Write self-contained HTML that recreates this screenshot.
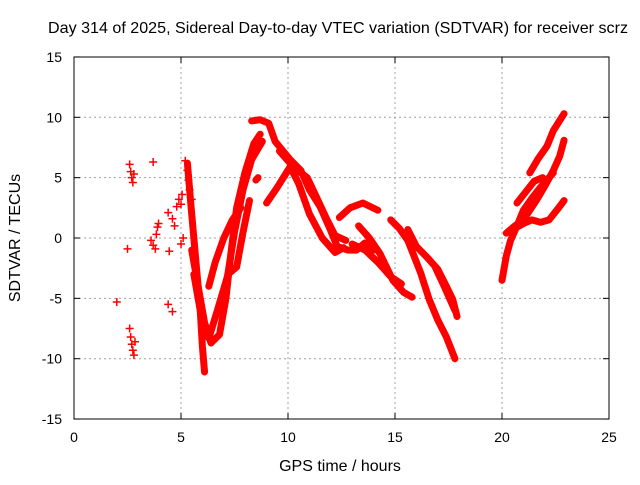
<!DOCTYPE html>
<html><head><meta charset="utf-8"><style>
body{margin:0;background:#fff;}
svg text{font-family:"Liberation Sans",sans-serif;fill:#000;}
</style></head><body>
<svg id="chart" width="640" height="480" xmlns="http://www.w3.org/2000/svg">
<rect width="640" height="480" fill="#fff"/>
<text x="48" y="33" font-size="16" textLength="580" lengthAdjust="spacingAndGlyphs">Day 314 of 2025, Sidereal Day-to-day VTEC variation (SDTVAR) for receiver scrz</text>
<g id="grid"></g>
<g id="axes"></g>
<g id="marks"></g>
<text x="340" y="471" font-size="16" text-anchor="middle">GPS time / hours</text>
<text transform="translate(20,238) rotate(-90)" font-size="16" text-anchor="middle">SDTVAR / TECUs</text>
</svg>
<script>
const xTicks=[0,5,10,15,20,25];
const yTicks=[-15,-10,-5,0,5,10,15];
const tracks=[
 [[5.3,6.2],[5.45,3],[5.6,0],[5.75,-3],[5.9,-6],[6.0,-9],[6.1,-11.1]],
 [[5.5,-1],[5.8,-4],[6.1,-7],[6.4,-8.7],[6.8,-8],[7.1,-5],[7.35,-1],[7.6,2.5],[8.0,5.5],[8.4,7.8],[8.7,8.6]],
 [[5.6,-3],[5.9,-6],[6.3,-8.3],[6.7,-6],[7.2,-3],[7.6,-2.4],[7.9,0.5],[8.2,3.1]],
 [[6.3,-4],[6.6,-2],[7.0,0],[7.4,1.5],[7.8,2.5]],
 [[7.1,-4],[7.5,0.5],[7.9,4],[8.3,6.5],[8.8,8.0]],
 [[8.3,9.7],[8.7,9.8],[9.1,9.5],[9.4,8],[10.1,6.5],[10.6,5.6],[11.0,4],[11.5,2.6],[12.0,0.6],[12.3,-0.7],[12.8,-1],[13.2,-1],[13.6,-0.4],[14.0,-1]],
 [[9.6,7.2],[10.3,5.8],[10.9,5],[11.3,3.5],[11.8,1.6],[12.2,0.2],[12.7,-0.2]],
 [[9.0,2.9],[9.5,4.2],[10.1,5.9],[10.5,4.5],[11.0,2],[11.6,0],[12.2,-1.2],[12.6,-0.8]],
 [[8.5,4.8],[8.6,5.0]],
 [[12.4,1.7],[12.9,2.5],[13.5,2.9],[14.2,2.3]],
 [[13.3,1],[13.8,0],[14.3,-1.3],[14.9,-3.5],[15.4,-4.5],[15.8,-4.9]],
 [[13.0,-0.5],[13.6,-1],[14.2,-2],[14.8,-3.2],[15.3,-3.8]],
 [[14.8,1.5],[15.2,0.8],[15.6,-0.2],[16.2,-2.9],[16.6,-5.1],[17.0,-6.8],[17.4,-8.2],[17.8,-10]],
 [[15.6,0.7],[16.0,-0.7],[16.5,-1.6],[17.0,-2.6],[17.4,-4],[17.7,-5.1],[17.9,-6.5]],
 [[16.9,-2.5],[17.3,-4],[17.8,-6]],
 [[20.0,-3.5],[20.2,-1.5],[20.4,-0.2],[20.7,1],[21.0,2.3],[21.4,3.3],[21.8,4.2],[22.4,5.4]],
 [[21.3,5.4],[21.7,6.6],[22.1,7.6],[22.4,8.9],[22.9,10.3]],
 [[20.2,0.4],[20.6,1],[21.0,1.5],[21.3,2.3],[21.6,3.1],[22.0,4.3],[22.4,5.6],[22.7,6.8],[22.9,8.1]],
 [[20.5,0.7],[21.0,1.2],[21.4,1.5],[21.8,1.3],[22.2,1.5],[22.6,2.4],[22.9,3.1]],
 [[20.7,2.9],[21.1,3.8],[21.5,4.7],[21.9,5]]
];
const scatter=[
 [2.0,-5.3],[2.5,-0.9],[2.6,6.1],[2.65,5.5],[2.7,5.0],[2.75,4.6],[2.8,5.3],
 [2.6,-7.5],[2.65,-8.2],[2.7,-8.8],[2.75,-9.3],[2.8,-9.7],[2.85,-8.6],
 [3.7,6.3],[3.6,-0.2],[3.7,-0.6],[3.8,-0.9],[3.85,0.3],[3.9,0.9],[3.95,1.2],
 [4.4,-5.5],[4.6,-6.1],[4.45,-1.1],[4.4,2.1],[4.6,1.6],[4.7,1.0],[4.8,2.6],[4.9,3.2],
 [5.0,2.8],[5.05,3.6],[5.1,0],[5.0,-0.5],[5.2,6.4],[5.3,5.6],[5.35,4.8],[5.4,4.0],[5.5,3.2]
];
const X=h=>74+h*21.4, Y=v=>238-v*12.07;
const NS="http://www.w3.org/2000/svg";
const g=document.getElementById('grid'),ax=document.getElementById('axes'),mk=document.getElementById('marks');
function el(t,a,p){const e=document.createElementNS(NS,t);for(const k in a)e.setAttribute(k,a[k]);p.appendChild(e);return e;}
xTicks.forEach(t=>{
 if(t>0&&t<25){const l=el('line',{x1:X(t),x2:X(t),y1:57,y2:419,stroke:'#a0a0a0','stroke-dasharray':'2,3'},g);
 
 }
 const tx=el('text',{x:X(t),y:442,'font-size':14,'text-anchor':'middle'},ax);tx.textContent=t;
 
 
 el('line',{x1:X(t),x2:X(t),y1:419,y2:413,stroke:'#000'},ax);
 el('line',{x1:X(t),x2:X(t),y1:57,y2:63,stroke:'#000'},ax);
});
yTicks.forEach(t=>{
 if(t>-15&&t<15){const l=el('line',{x1:74,x2:609,y1:Y(t),y2:Y(t),stroke:'#a0a0a0','stroke-dasharray':'2,3'},g);
 
 }
 const tx=el('text',{x:62,y:Y(t)+5,'font-size':14,'text-anchor':'end'},ax);tx.textContent=t;
 
 
 el('line',{x1:74,x2:80,y1:Y(t),y2:Y(t),stroke:'#000'},ax);
 el('line',{x1:603,x2:609,y1:Y(t),y2:Y(t),stroke:'#000'},ax);
});
const fr=el('rect',{x:74,y:57,width:535,height:362,fill:'none',stroke:'#000'},ax);


tracks.forEach(tr=>{
 const p=el('polyline',{points:tr.map(d=>X(d[0])+','+Y(d[1])).join(' '),fill:'none',stroke:'#ff0000','stroke-width':7,'stroke-linejoin':'round','stroke-linecap':'round'},mk);
 
 
});
scatter.forEach(d=>{
 const x=X(d[0]),y=Y(d[1]);
 const p=el('path',{d:`M${x-4},${y}H${x+4}M${x},${y-4}V${y+4}`,stroke:'#ff0000','stroke-width':1.5},mk);
 
 
});
</script>
</body></html>
